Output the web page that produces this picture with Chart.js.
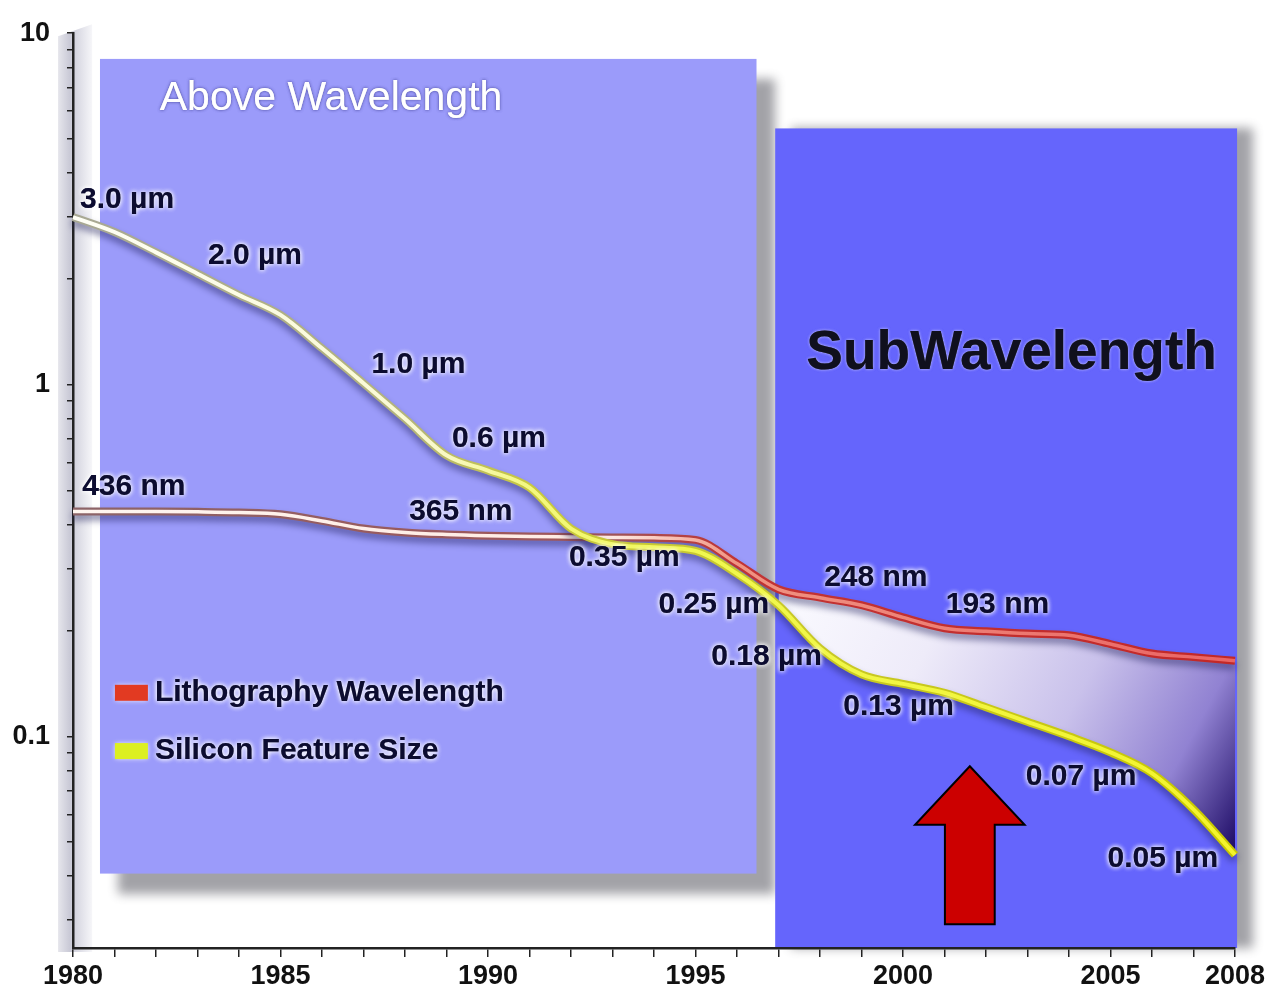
<!DOCTYPE html>
<html>
<head>
<meta charset="utf-8">
<script src="https://cdn.jsdelivr.net/npm/chart.js@4.4.1/dist/chart.umd.min.js"></script>
<style>
html, body { margin: 0; padding: 0; background: #fff; }
canvas { display: block; }
</style>
</head>
<body>
<canvas id="lithoChart" width="1275" height="991"></canvas>
<script>
// values (micrometres)
const years = [1980, 1981, 1982, 1983, 1984, 1985, 1986, 1987, 1988, 1989,
               1990, 1991, 1992, 1993, 1994, 1995, 1996, 1997, 1998, 1999,
               2000, 2001, 2002, 2003, 2004, 2005, 2006, 2007, 2008];
const lithoWavelength = [0.436, 0.436, 0.436, 0.435, 0.433, 0.428, 0.41, 0.39, 0.38, 0.375,
                         0.372, 0.37, 0.369, 0.368, 0.367, 0.362, 0.31, 0.262, 0.248, 0.236,
                         0.218, 0.203, 0.199, 0.196, 0.194, 0.183, 0.172, 0.168, 0.164];
const featureSize = [3.0, 2.72, 2.38, 2.07, 1.8, 1.58, 1.27, 1.01, 0.8, 0.63,
                     0.57, 0.51, 0.39, 0.352, 0.345, 0.337, 0.29, 0.236, 0.178, 0.15,
                     0.141, 0.133, 0.121, 0.110, 0.100, 0.090, 0.0785, 0.062, 0.046];

const xTickLabels = [1980, 1985, 1990, 1995, 2000, 2005, 2008];
const yTickLabels = [10, 1, 0.1];
const yTickValues = [0.03, 0.04, 0.05, 0.06, 0.07, 0.08, 0.09,
                     0.1, 0.2, 0.3, 0.4, 0.5, 0.6, 0.7, 0.8, 0.9,
                     1, 2, 3, 4, 5, 6, 7, 8, 9, 10];

// point labels: text, year, value
const lithoLabels = [['436 nm', 1980.22, 0.512], ['365 nm', 1988.1, 0.435],
                     ['248 nm', 1998.1, 0.283], ['193 nm', 2001.03, 0.236]];
const featureLabels = [['3.0 µm', 1980.17, 3.35], ['2.0 µm', 1983.25, 2.33],
                       ['1.0 µm', 1987.19, 1.14], ['0.6 µm', 1989.13, 0.703],
                       ['0.35 µm', 1991.95, 0.3225], ['0.25 µm', 1994.11, 0.2375],
                       ['0.18 µm', 1995.38, 0.168], ['0.13 µm', 1998.56, 0.121],
                       ['0.07 µm', 2002.96, 0.0766], ['0.05 µm', 2004.93, 0.045]];

const subStart = years.indexOf(1997);
const Y_MIN = 0.025, Y_MAX = 10;

const FONT = '"Liberation Sans", Arial, Helvetica, sans-serif';

function pts(xs, ys) {
    return xs.map((x, i) => ({ x: x, y: ys[i] }));
}

function ready(chart) {
    const x = chart.scales.x, y = chart.scales.y;
    return chart.chartArea && x && y &&
        isFinite(x.getPixelForValue(1980)) && isFinite(y.getPixelForValue(1));
}

// horizontal gradient along the years
function yearGradient(chart, stops) {
    if (!ready(chart)) return stops[0][1];
    const x = chart.scales.x;
    const x0 = x.getPixelForValue(1980), x1 = x.getPixelForValue(2008);
    const g = chart.ctx.createLinearGradient(x0, 0, x1, 0);
    stops.forEach(s => g.addColorStop((s[0] - 1980) / 28, s[1]));
    return g;
}

function glowText(ctx, text, x, y, font, color, glow, blur) {
    ctx.save();
    ctx.font = font;
    ctx.textAlign = 'left';
    ctx.textBaseline = 'middle';
    ctx.fillStyle = color;
    ctx.shadowColor = glow;
    ctx.shadowBlur = blur;
    ctx.fillText(text, x, y);
    ctx.fillText(text, x, y);
    ctx.restore();
}

const backdrop = {
    id: 'backdrop',
    beforeDraw(chart) {
        const { ctx, scales: { x, y } } = chart;
        const px = v => x.getPixelForValue(v), py = v => y.getPixelForValue(v);
        ctx.save();

        // grey band along the value axis
        const bx0 = px(1979.64), bx1 = px(1980.46), by0 = py(10.6), by1 = y.bottom + 4;
        let g = ctx.createLinearGradient(bx0, 0, bx1, 0);
        g.addColorStop(0, '#e6e6ec');
        g.addColorStop(0.35, '#c9c9d6');
        g.addColorStop(0.55, '#d8d8e2');
        g.addColorStop(1, '#f6f6f9');
        ctx.fillStyle = g;
        ctx.beginPath();
        ctx.moveTo(bx0, by0 + 12);
        ctx.lineTo(bx1, by0);
        ctx.lineTo(bx1, by1);
        ctx.lineTo(bx0, by1);
        ctx.closePath();
        ctx.fill();

        // "Above Wavelength" panel
        ctx.shadowColor = 'rgba(70,70,80,0.5)';
        ctx.shadowBlur = 10;
        ctx.shadowOffsetX = 18;
        ctx.shadowOffsetY = 20;
        ctx.fillStyle = '#9b9bfa';
        const ax0 = px(1980.65), ax1 = px(1996.47), ay0 = py(8.45), ay1 = py(0.0407);
        ctx.fillRect(ax0, ay0, ax1 - ax0, ay1 - ay0);

        // "SubWavelength" panel
        ctx.shadowOffsetX = 16;
        ctx.shadowOffsetY = 0;
        ctx.fillStyle = '#6565fc';
        const sx0 = px(1996.92), sx1 = px(2008.05), sy0 = py(5.36), sy1 = y.bottom;
        ctx.fillRect(sx0, sy0, sx1 - sx0, sy1 - sy0);
        ctx.restore();
    },
    beforeDatasetDraw(chart, args) {
        const ds = chart.data.datasets[args.index];
        chart.ctx.save();
        if (ds.shadow) {
            chart.ctx.shadowColor = 'rgba(30,30,90,0.5)';
            chart.ctx.shadowBlur = 7;
            chart.ctx.shadowOffsetY = 5;
        }
    },
    afterDatasetDraw(chart) {
        chart.ctx.restore();
    },
    afterDatasetsDraw(chart) {
        const { ctx, scales: { x, y } } = chart;
        const px = v => x.getPixelForValue(v), py = v => y.getPixelForValue(v);

        // titles
        glowText(ctx, 'Above Wavelength', px(1982.09), py(6.51), '41px ' + FONT, '#ffffff', 'rgba(60,60,140,0.5)', 3);
        glowText(ctx, 'SubWavelength', px(1997.67), py(1.224), 'bold 55px ' + FONT, '#10101e', 'rgba(200,200,255,0.6)', 3);

        // point labels
        const lf = 'bold 30px ' + FONT;
        lithoLabels.concat(featureLabels).forEach(l => {
            glowText(ctx, l[0], px(l[1]), py(l[2]), lf, '#0c0c30', 'rgba(255,255,255,0.95)', 5);
        });

        // legend
        const legend = [['Lithography Wavelength', 0.133, '#e23a22'], ['Silicon Feature Size', 0.0908, '#dcef22']];
        legend.forEach(item => {
            const lx = px(1981.01), ly = py(item[1]);
            ctx.save();
            ctx.shadowColor = 'rgba(255,255,255,0.9)';
            ctx.shadowBlur = 5;
            ctx.fillStyle = item[2];
            ctx.fillRect(lx, ly - 8, 33, 16);
            ctx.restore();
            glowText(ctx, item[0], lx + 40, ly, 'bold 30px ' + FONT, '#0c0c30', 'rgba(255,255,255,0.95)', 5);
        });

        // red arrow
        const tipX = px(2001.61), tipY = py(0.0822), baseY = py(0.056), botY = py(0.0292);
        const headW = px(2001.61 + 1.32) - tipX, shaftW = px(2001.61 + 0.6) - tipX;
        ctx.save();
        ctx.beginPath();
        ctx.moveTo(tipX, tipY);
        ctx.lineTo(tipX + headW, baseY);
        ctx.lineTo(tipX + shaftW, baseY);
        ctx.lineTo(tipX + shaftW, botY);
        ctx.lineTo(tipX - shaftW, botY);
        ctx.lineTo(tipX - shaftW, baseY);
        ctx.lineTo(tipX - headW, baseY);
        ctx.closePath();
        ctx.fillStyle = '#cc0000';
        ctx.fill();
        ctx.lineWidth = 2;
        ctx.strokeStyle = '#000';
        ctx.stroke();
        ctx.restore();
    }
};

const ctx = document.getElementById('lithoChart').getContext('2d');

const lineBase = {
    fill: false,
    pointRadius: 0,
    cubicInterpolationMode: 'monotone',
    clip: false
};

new Chart(ctx, {
    type: 'line',
    data: {
        datasets: [
            {   // gap between the curves, sub-wavelength era
                ...lineBase,
                data: pts(years.slice(subStart), lithoWavelength.slice(subStart)),
                borderWidth: 0,
                borderColor: 'rgba(0,0,0,0)',
                order: 20
            },
            {
                ...lineBase,
                data: pts(years.slice(subStart), featureSize.slice(subStart)),
                borderWidth: 0,
                borderColor: 'rgba(0,0,0,0)',
                fill: '-1',
                backgroundColor: (c) => {
                    const chart = c.chart;
                    if (!ready(chart)) return 'rgba(200,200,240,0.8)';
                    const { x, y } = chart.scales;
                    const g = chart.ctx.createLinearGradient(
                        x.getPixelForValue(1997), y.getPixelForValue(0.25),
                        x.getPixelForValue(2008), y.getPixelForValue(0.05));
                    g.addColorStop(0, 'rgba(255,255,255,0.97)');
                    g.addColorStop(0.3, '#eeebf9');
                    g.addColorStop(0.6, '#c9c1eb');
                    g.addColorStop(0.83, '#9182d2');
                    g.addColorStop(1, '#22106a');
                    return g;
                },
                order: 19
            },
            {
                ...lineBase,
                label: 'Lithography Wavelength',
                data: pts(years, lithoWavelength),
                borderWidth: 8,
                shadow: true,
                borderColor: (c) => yearGradient(c.chart, [[1980, '#8c6468'], [1993, '#a05458'], [1996, '#c23434'], [2008, '#c22828']]),
                order: 6
            },
            {
                ...lineBase,
                data: pts(years, lithoWavelength),
                borderWidth: 3.5,
                borderColor: (c) => yearGradient(c.chart, [[1980, '#fff6f0'], [1993, '#ffeae2'], [1996, '#f09482'], [2008, '#ea6464']]),
                order: 5
            },
            {
                ...lineBase,
                label: 'Silicon Feature Size',
                data: pts(years, featureSize),
                borderWidth: 8,
                shadow: true,
                borderColor: (c) => yearGradient(c.chart, [[1980, '#a8a894'], [1988, '#b4b47c'], [1991, '#c8c840'], [2008, '#c8c800']]),
                order: 4
            },
            {
                ...lineBase,
                data: pts(years, featureSize),
                borderWidth: 4,
                borderColor: (c) => yearGradient(c.chart, [[1980, '#fffff6'], [1988.5, '#fafad2'], [1991, '#f4f880'], [1995, '#f0f850'], [2008, '#f4f42c']]),
                order: 3
            }
        ]
    },
    options: {
        responsive: false,
        animation: false,
        events: [],
        layout: { padding: { top: 29, right: 40, left: 0, bottom: 0 } },
        scales: {
            x: {
                type: 'linear',
                min: 1980,
                max: 2008,
                afterFit: (scale) => { scale.height = 43; },
                grid: { display: true, drawOnChartArea: false, drawTicks: true, tickLength: 9, color: '#222', lineWidth: 1.5 },
                border: { display: true, color: '#222', width: 2.5 },
                ticks: {
                    stepSize: 1,
                    autoSkip: false,
                    maxRotation: 0,
                    padding: 3,
                    color: '#111',
                    font: { family: FONT, size: 27, weight: 'bold' },
                    callback: (v) => xTickLabels.includes(v) ? String(v) : ''
                }
            },
            y: {
                type: 'logarithmic',
                min: Y_MIN,
                max: Y_MAX,
                afterFit: (scale) => { scale.width = 73; },
                afterBuildTicks: (scale) => { scale.ticks = yTickValues.map(v => ({ value: v })); },
                grid: { display: true, drawOnChartArea: false, drawTicks: true, tickLength: 6, color: '#222', lineWidth: 1.5 },
                border: { display: true, color: '#222', width: 2.5 },
                ticks: {
                    autoSkip: false,
                    padding: 17,
                    color: '#111',
                    font: { family: FONT, size: 27, weight: 'bold' },
                    callback: (v) => yTickLabels.includes(v) ? String(v) : ''
                }
            }
        },
        plugins: {
            legend: { display: false },
            tooltip: { enabled: false }
        }
    },
    plugins: [backdrop]
});
</script>
</body>
</html>
